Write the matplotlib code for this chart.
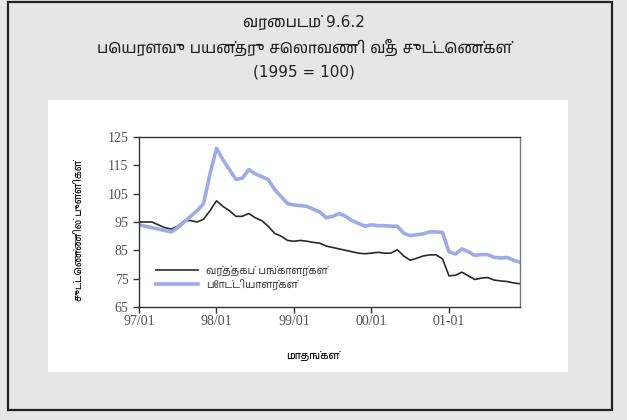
import matplotlib
matplotlib.use('Agg')
import matplotlib.pyplot as plt
from matplotlib import font_manager
from matplotlib.ft2font import FT2Font
from matplotlib.patches import Rectangle

# monthly index, Jan 1997 - Dec 2001 (1995 = 100)
months = list(range(60))
tick_pos = [0, 12, 24, 36, 48]
tick_labels = ['97/01', '98/01', '99/01', '00/01', '01-01']

partners = [95, 95, 95, 94, 93, 92.5, 93.5, 95.5, 95.5, 95, 96, 99,
            102.5, 100.5, 99, 97, 97, 98, 96.5, 95.5, 93.5, 91, 90, 88.5,
            88.2, 88.5, 88.2, 87.8, 87.5, 86.5, 86, 85.5, 85, 84.5, 84, 83.8,
            84, 84.3, 84, 84, 85.2, 83, 81.5, 82.2, 83, 83.4, 83.4, 82,
            76, 76.2, 77.3, 76, 74.7, 75.2, 75.4, 74.5, 74.2, 74, 73.5, 73.2]
competitors = [94, 93.5, 93, 92.5, 92, 91.5, 93, 95, 97, 99, 101.5, 112,
               121, 117, 113.5, 110, 110.5, 113.5, 112, 111, 110, 106.5, 104, 101.5,
               101, 100.8, 100.5, 99.5, 98.5, 96.5, 97, 98, 97, 95.5, 94.5, 93.5,
               94, 93.7, 93.7, 93.5, 93.5, 91, 90.2, 90.5, 90.8, 91.5, 91.5, 91.3,
               84.5, 83.7, 85.5, 84.5, 83.2, 83.5, 83.5, 82.5, 82.3, 82.5, 81.5, 80.8]

title_lines = ['வரைபடம் 9.6.2',
               'பெயரளவு பயன்தரு செலாவணி வீத சுட்டெண்கள்',
               '(1995 = 100)']
legend_labels = ['வர்த்தகப் பங்காளர்கள்', 'போட்டியாளர்கள்']
ylabel = 'சுட்டெண்ணில் புள்ளிகள்'
xlabel = 'மாதங்கள்'


def tamil_font():
    found = []
    for f in font_manager.fontManager.ttflist:
        try:
            if 0x0BB5 in FT2Font(f.fname).get_charmap():
                found.append(f.name)
        except Exception:
            pass
    # prefer a proportional sans face over a monospace one
    found.sort(key=lambda n: ('Mono' in n, 'Serif' in n, n))
    return found[0] if found else None


tf = tamil_font()
tam = ['DejaVu Sans', tf] if tf else ['DejaVu Sans']

fig = plt.figure(figsize=(6.27, 4.2), dpi=100)
fig.patch.set_facecolor('#e6e6e6')
W, H = 627.0, 420.0
fig.add_artist(Rectangle((48 / W, 1 - 372 / H), 520 / W, 272 / H,
                         transform=fig.transFigure, facecolor='white',
                         edgecolor='none', zorder=0))
fig.add_artist(Rectangle((8 / W, 1 - 410 / H), 604 / W, 408 / H,
                         transform=fig.transFigure, fill=False,
                         edgecolor='#222222', lw=1.6, zorder=1))

ax = fig.add_axes([139 / W, 1 - 307 / H, 381 / W, 170 / H])
ax.plot(months, partners, color='#2a2a2a', lw=1.2,
        label=legend_labels[0])
ax.plot(months, competitors, color='#9dabe6', lw=2.6,
        label=legend_labels[1])

ax.set_xlim(0, 59)
ax.set_ylim(65, 125)
ax.set_yticks(range(65, 126, 10))
ax.set_xticks(tick_pos)
ax.set_xticklabels(tick_labels)
for lab in ax.get_xticklabels() + ax.get_yticklabels():
    lab.set_family('Liberation Serif')
    lab.set_fontsize(10)
    lab.set_color('#555555')
ax.tick_params(direction='out', length=4, width=1, color='#333333')
ax.tick_params(axis='x', pad=2)
for s in ax.spines.values():
    s.set_color('#333333')
    s.set_linewidth(1.0)
ax.spines['right'].set_color('#777777')

leg = ax.legend(loc='upper left', bbox_to_anchor=(0.02, 0.30), frameon=False,
                handlelength=4, handletextpad=0.8, labelspacing=0.25,
                prop={'family': tam, 'size': 7.5})
for t in leg.get_texts():
    t.set_color('#444444')

ax.set_ylabel(ylabel, family=tam, fontsize=7)
ax.yaxis.set_label_coords(-0.145, 0.45)
ax.set_xlabel(xlabel, family=tam, fontsize=7.5)
ax.xaxis.set_label_coords(0.457, -0.255)

ys = [1 - 22 / H, 1 - 47 / H, 1 - 72 / H]
for line, y in zip(title_lines, ys):
    fig.text(304 / W, y, line, ha='center', va='center', family=tam,
             fontsize=11, color='#222222')

fig.savefig('out.png', dpi=100)
